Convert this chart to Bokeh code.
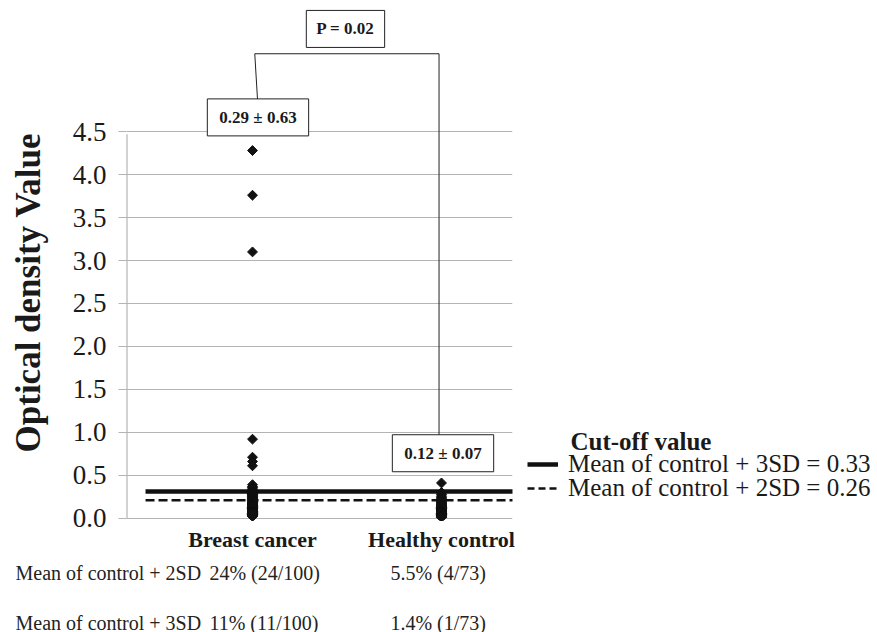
import math
from bokeh.plotting import figure
from bokeh.models import FixedTicker, Label, Legend, LegendItem, Range1d, PrintfTickFormatter
from bokeh.layouts import row
from bokeh.embed import file_html
from bokeh.resources import INLINE

FONT = "Liberation Serif"
INK = "#1a1a1a"

categories = ["Breast cancer", "Healthy control"]
cat_pos = [1, 2]

breast_cancer = [4.28, 3.76, 3.10, 0.92, 0.71, 0.66, 0.61, 0.39, 0.37, 0.36, 0.35,
                 0.33, 0.32, 0.32, 0.31, 0.30, 0.30, 0.29, 0.29, 0.28, 0.28, 0.27, 0.27, 0.27,
                 0.26, 0.25, 0.25, 0.24, 0.24, 0.23, 0.23, 0.22, 0.22, 0.21,
                 0.21, 0.20, 0.20, 0.19, 0.19, 0.18, 0.18, 0.18, 0.17, 0.17,
                 0.17, 0.16, 0.16, 0.16, 0.15, 0.15, 0.15, 0.14, 0.14, 0.14,
                 0.13, 0.13, 0.13, 0.13, 0.12, 0.12, 0.12, 0.12, 0.11, 0.11,
                 0.11, 0.11, 0.10, 0.10, 0.10, 0.10, 0.09, 0.09, 0.09, 0.09,
                 0.08, 0.08, 0.08, 0.08, 0.07, 0.07, 0.07, 0.07, 0.06, 0.06,
                 0.06, 0.06, 0.05, 0.05, 0.05, 0.05, 0.04, 0.04, 0.04, 0.04,
                 0.03, 0.03, 0.03, 0.03, 0.02, 0.02]

healthy_control = [0.41, 0.30, 0.28, 0.27,
                   0.25, 0.24, 0.23, 0.22, 0.21, 0.20, 0.20, 0.19, 0.19, 0.18,
                   0.18, 0.17, 0.17, 0.16, 0.16, 0.15, 0.15, 0.15, 0.14, 0.14,
                   0.14, 0.13, 0.13, 0.13, 0.12, 0.12, 0.12, 0.12, 0.11, 0.11,
                   0.11, 0.11, 0.10, 0.10, 0.10, 0.10, 0.09, 0.09, 0.09, 0.09,
                   0.08, 0.08, 0.08, 0.08, 0.07, 0.07, 0.07, 0.07, 0.06, 0.06,
                   0.06, 0.06, 0.05, 0.05, 0.05, 0.05, 0.04, 0.04, 0.04, 0.04,
                   0.03, 0.03, 0.03, 0.03, 0.02, 0.02, 0.02, 0.01, 0.01]

cutoff_values = [0.31, 0.21]   # drawn positions of the two cut-off lines
cutoff_title = "Cut-off value"
cutoff_labels = ["Mean of control + 3SD = 0.33", "Mean of control + 2SD = 0.26"]
y_ticks = [0.0, 0.5, 1.0, 1.5, 2.0, 2.5, 3.0, 3.5, 4.0, 4.5]
y_title = "Optical density Value"

group_stats = ["0.29 \u00b1 0.63", "0.12 \u00b1 0.07"]
p_value_text = "P = 0.02"

table_rows = ["Mean of control + 2SD", "Mean of control + 3SD"]
table_bc = ["24% (24/100)", "11% (11/100)"]
table_hc = ["5.5% (4/73)", "1.4% (1/73)"]

X_RANGE = (0.3333, 2.3757)
TOP_H = 554
FRAME_H = 520.6   # height of the chart frame in the top row (rows align their frames)
LAB_W = 60

# ---------------- y title strip ----------------
yl = figure(width=LAB_W, height=TOP_H, output_backend="svg", toolbar_location=None,
            x_range=Range1d(0, LAB_W), y_range=Range1d(FRAME_H, 0),
            x_axis_location=None, y_axis_location=None,
            min_border=0, min_border_left=0, min_border_right=0, min_border_top=0, min_border_bottom=0)
yl.outline_line_color = None
yl.grid.visible = False
yl.add_layout(Label(x=28, y=292.5, text=y_title, angle=math.pi / 2,
                    text_font=FONT, text_font_size="35px", text_font_style="bold",
                    text_color=INK, text_align="center", text_baseline="middle"))

# ---------------- main chart ----------------
p = figure(width=520 - LAB_W, height=TOP_H, output_backend="svg", toolbar_location=None,
           x_range=Range1d(*X_RANGE), y_range=Range1d(-0.027, 6.027),
           min_border_left=126 - LAB_W, min_border_right=8, min_border_top=0, min_border_bottom=20)
p.outline_line_color = None
p.border_fill_color = "white"

p.xgrid.visible = False
p.ygrid.ticker = FixedTicker(ticks=y_ticks)
p.ygrid.grid_line_color = "#b4b4b4"
p.ygrid.grid_line_width = 1

ya = p.yaxis[0]
ya.ticker = FixedTicker(ticks=y_ticks)
ya.formatter = PrintfTickFormatter(format="%.1f")
ya.axis_line_color = None
ya.major_tick_in = 0
ya.major_tick_out = 8
ya.major_tick_line_color = "#b4b4b4"
ya.minor_tick_line_color = None
ya.major_label_text_font = FONT
ya.major_label_text_font_size = "27px"
ya.major_label_text_color = INK
ya.major_label_standoff = 12

xa = p.xaxis[0]
xa.ticker = FixedTicker(ticks=cat_pos)
xa.major_label_overrides = {cat_pos[i]: categories[i] for i in range(2)}
xa.axis_line_color = None
xa.major_tick_line_color = None
xa.minor_tick_line_color = None
xa.major_label_text_font = FONT
xa.major_label_text_font_style = "bold"
xa.major_label_text_font_size = "22px"
xa.major_label_text_color = INK
xa.major_label_standoff = 0

# vertical axis line (stops just below the top gridline)
p.segment(x0=[X_RANGE[0]], y0=[0.0], x1=[X_RANGE[0]], y1=[4.47], line_color="#a6a6a6", line_width=2)

# cut-off lines
p.segment(x0=[0.434], y0=[cutoff_values[0]], x1=[2.5], y1=[cutoff_values[0]],
          line_color="#111111", line_width=4.5)
p.segment(x0=[0.434], y0=[cutoff_values[1]], x1=[2.5], y1=[cutoff_values[1]],
          line_color="#111111", line_width=2.5, line_dash="9 4")

# points
xs = [cat_pos[0]] * len(breast_cancer) + [cat_pos[1]] * len(healthy_control)
ys = breast_cancer + healthy_control
p.scatter(x=xs, y=ys, marker="square", size=7, angle=0.785398,
          fill_color="#111111", line_color="#111111")

# bracket joining the two group boxes
p.line(x=[1.030, 1.012, 1.987, 1.987], y=[4.748, 5.407, 5.407, 0.930],
       line_color="#222222", line_width=1)


def boxed(text, x, y, size, pad):
    sh = Label(x=x, y=y, text=text, text_font=FONT, text_font_size=size, text_font_style="bold",
               text_align="center", text_baseline="middle", text_alpha=0,
               x_offset=3, y_offset=-3, padding=pad,
               background_fill_color="#7a7a7a", background_fill_alpha=0.55,
               border_line_color=None)
    lb = Label(x=x, y=y, text=text, text_font=FONT, text_font_size=size, text_font_style="bold",
               text_align="center", text_baseline="middle", text_color=INK,
               padding=pad, background_fill_color="white", background_fill_alpha=1.0,
               border_line_color="#222222", border_line_width=1)
    p.add_layout(sh)
    p.add_layout(lb)


boxed(p_value_text, 1.492, 5.696, "17px", (10, 9))
boxed(group_stats[0], 1.029, 4.666, "17px", (12, 9))
boxed(group_stats[1], 2.008, 0.756, "17px", (12, 9))

# ---------------- legend panel on the right ----------------
g = figure(width=357, height=TOP_H, output_backend="svg", toolbar_location=None,
           x_range=Range1d(520, 877), y_range=Range1d(FRAME_H, 0),
           x_axis_location=None, y_axis_location=None,
           min_border=0, min_border_left=0, min_border_right=0, min_border_top=0, min_border_bottom=0)
g.outline_line_color = None
g.grid.visible = False
# legend sample renderers (kept outside the visible range of this panel)
l3 = g.line(x=[0, 1], y=[cutoff_values[0], cutoff_values[0]], line_color="#111111", line_width=4.5)
l2 = g.line(x=[0, 1], y=[cutoff_values[1], cutoff_values[1]], line_color="#111111",
            line_width=2.5, line_dash="7 4")
leg_bottoms = [FRAME_H - 478.5, FRAME_H - 502.5]
for lab, rend, yb in zip(cutoff_labels, [l3, l2], leg_bottoms):
    lg = Legend(items=[LegendItem(label=lab, renderers=[rend])],
                location=(7, yb), orientation="vertical",
                padding=0, margin=0, spacing=0,
                glyph_width=31, glyph_height=22, label_height=22, label_standoff=10,
                label_text_font=FONT, label_text_font_size="25px", label_text_color=INK,
                border_line_color=None, background_fill_alpha=0)
    g.add_layout(lg)
g.add_layout(Label(x=570, y=442, text=cutoff_title, text_font=FONT,
                   text_font_size="25px", text_font_style="bold", text_color=INK,
                   text_align="left", text_baseline="middle"))

# ---------------- table under the chart ----------------
TAB_H = 632 - TOP_H
t = figure(width=877, height=TAB_H, output_backend="svg", toolbar_location=None,
           x_range=Range1d(-0.3333, 4.3069), y_range=Range1d(TAB_H, 0),
           x_axis_location=None, y_axis_location=None,
           min_border=0, min_border_left=0, min_border_right=0, min_border_top=0, min_border_bottom=0)
t.outline_line_color = None
t.grid.visible = False
row_y = [572 - TOP_H, 622 - TOP_H]
col_x = [-0.254, 0.772, 1.730]
for i in range(2):
    for cx, txt in zip(col_x, [table_rows[i], table_bc[i], table_hc[i]]):
        t.add_layout(Label(x=cx, y=row_y[i], text=txt, text_font=FONT,
                           text_font_size="20px", text_color="#222222",
                           text_align="left", text_baseline="middle"))

open("out.html", "w").write(file_html([row(yl, p, g), t], INLINE))
